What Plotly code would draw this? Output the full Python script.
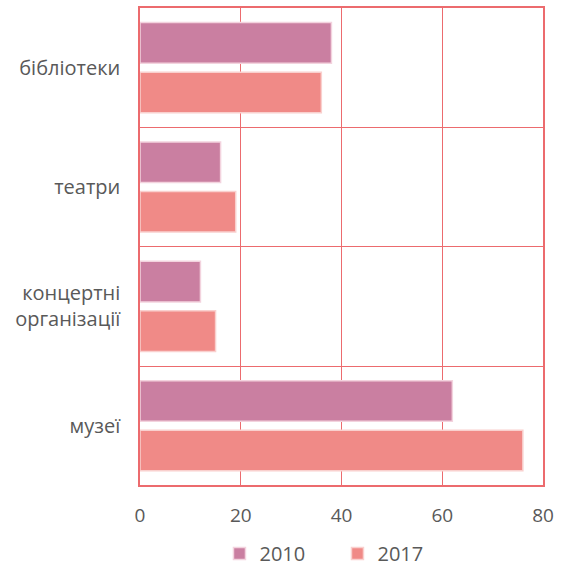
import plotly.graph_objects as go

categories = ["бібліотеки", "театри", "концертні<br>організації", "музеї"]
values_2010 = [38, 16, 12, 62]
values_2017 = [36, 19, 15, 76]
series_names = ["2010", "2017"]
x_ticks = [0, 20, 40, 60, 80]

grid_red = "#EC6B6E"
font_family = "Open Sans, Lato, sans-serif"

fig = go.Figure()
fig.add_trace(go.Bar(
    y=categories, x=values_2010, name=series_names[0], orientation="h",
    marker=dict(color="#CA7FA1", line=dict(color="#F3D3DE", width=1.5)),
))
fig.add_trace(go.Bar(
    y=categories, x=values_2017, name=series_names[1], orientation="h",
    marker=dict(color="#F08A87", line=dict(color="#F9D0CE", width=1.5)),
))

fig.update_layout(
    width=564, height=573,
    margin=dict(l=140, r=21, t=6, b=86),
    paper_bgcolor="white", plot_bgcolor="white",
    barmode="group", bargap=0.17, bargroupgap=0.18,
    font=dict(family=font_family, size=20, color="#595959"),
    legend=dict(orientation="h", x=0.49, xanchor="center",
                yref="container", y=0, yanchor="bottom",
                font=dict(size=20, color="#595959"), itemwidth=30,
                entrywidth=73, entrywidthmode="pixels",
                traceorder="normal"),
    showlegend=True,
)
fig.update_xaxes(
    range=[0, 80], tickvals=x_ticks, showgrid=True, gridcolor=grid_red, gridwidth=1,
    showline=True, linecolor=grid_red, linewidth=1.5, mirror=True, zeroline=False,
    ticks="", ticklabelstandoff=12,
    tickfont=dict(size=19, color="#595959"),
)
fig.update_yaxes(
    autorange="reversed", tickson="boundaries", showgrid=True, gridcolor=grid_red,
    gridwidth=1, showline=True, linecolor=grid_red, linewidth=1.5, mirror=True,
    ticks="", ticklabelstandoff=14,
    tickfont=dict(size=20, color="#595959"),
)

fig.write_html("out.html", config={"displayModeBar": False},
               post_script="document.body.style.margin='0';")
